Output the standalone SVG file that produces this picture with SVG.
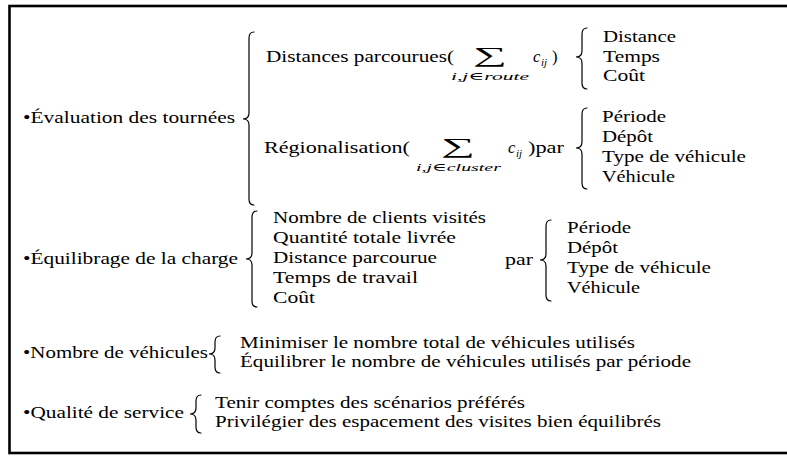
<svg xmlns="http://www.w3.org/2000/svg" width="787" height="460" viewBox="0 0 787 460">
<style>
.t{font-family:"Liberation Serif","DejaVu Serif",serif;font-size:16.5px;fill:#000}
.i{font-style:italic}
.s{font-size:11px}
.sum{font-family:"Liberation Serif","DejaVu Serif",serif;font-size:21px;fill:#000}
.br{fill:none;stroke:#000;stroke-width:1.2;stroke-linecap:round}
.frame{fill:none;stroke:#000;stroke-width:2.6}
</style>
<rect class="frame" x="9.5" y="6" width="800" height="447"/>

<g id="connectors">
<path class="br" d="M254,32 C250,32 249,34 249,38 L249,113 C249,117 247,119 243,119 C247,119 249,121 249,125 L249,199 C249,203 250,205 254,205"/>
<path class="br" d="M587,28 C583,28 582,30 582,34 L582,51 C582,55 580,57 576,57 C580,57 582,59 582,63 L582,83 C582,87 583,89 587,89"/>
<path class="br" d="M587,108 C583,108 582,110 582,114 L582,142 C582,146 580,148 576,148 C580,148 582,150 582,154 L582,183 C582,187 583,189 587,189"/>
<path class="br" d="M257,211 C253,211 252,213 252,217 L252,253 C252,257 250,259 246,259 C250,259 252,261 252,265 L252,301 C252,305 253,307 257,307"/>
<path class="br" d="M551,220 C547,220 546,222 546,226 L546,254 C546,258 544,260 540,260 C544,260 546,262 546,266 L546,295 C546,299 547,301 551,301"/>
<path class="br" d="M220,336 C216,336 215,338 215,342 L215,348 C215,352 213,354 209,354 C213,354 215,356 215,360 L215,367 C215,371 216,373 220,373"/>
<path class="br" d="M201,395 C197,395 196,397 196,401 L196,408 C196,412 194,414 190,414 C194,414 196,416 196,420 L196,427 C196,431 197,433 201,433"/>
</g>

<g id="n-evaluation">
<text class="t" x="23" y="123" textLength="212" lengthAdjust="spacingAndGlyphs">•Évaluation des tournées</text>
</g>

<g id="n-distances">
<text class="t" x="266" y="62" textLength="188" lengthAdjust="spacingAndGlyphs">Distances parcourues(</text>
<text class="sum" x="473" y="62" textLength="34" lengthAdjust="spacingAndGlyphs">∑</text>
<text class="t s" x="451" y="80" textLength="78" lengthAdjust="spacingAndGlyphs"><tspan class="i">i</tspan>,<tspan class="i">j</tspan>∈<tspan class="i">route</tspan></text>
<text class="t i" x="533" y="62">c</text>
<text class="t i s" x="541" y="65.5">ij</text>
<text class="t" x="552" y="62">)</text>
</g>

<g id="n-dist-items">
<text class="t" x="603" y="42" textLength="73" lengthAdjust="spacingAndGlyphs">Distance</text>
<text class="t" x="603" y="61.5" textLength="57" lengthAdjust="spacingAndGlyphs">Temps</text>
<text class="t" x="603" y="81" textLength="42" lengthAdjust="spacingAndGlyphs">Coût</text>
</g>

<g id="n-regional">
<text class="t" x="264" y="153" textLength="146" lengthAdjust="spacingAndGlyphs">Régionalisation(</text>
<text class="sum" x="441" y="153" textLength="34" lengthAdjust="spacingAndGlyphs">∑</text>
<text class="t s" x="416" y="171" textLength="85" lengthAdjust="spacingAndGlyphs"><tspan class="i">i</tspan>,<tspan class="i">j</tspan>∈<tspan class="i">cluster</tspan></text>
<text class="t i" x="508" y="153">c</text>
<text class="t i s" x="516" y="156.5">ij</text>
<text class="t" x="528" y="153" textLength="36" lengthAdjust="spacingAndGlyphs">)par</text>
</g>

<g id="n-reg-items">
<text class="t" x="602" y="122" textLength="64" lengthAdjust="spacingAndGlyphs">Période</text>
<text class="t" x="602" y="142" textLength="51" lengthAdjust="spacingAndGlyphs">Dépôt</text>
<text class="t" x="602" y="162" textLength="144" lengthAdjust="spacingAndGlyphs">Type de véhicule</text>
<text class="t" x="602" y="182" textLength="73" lengthAdjust="spacingAndGlyphs">Véhicule</text>
</g>

<g id="n-equilibrage">
<text class="t" x="23" y="264" textLength="215" lengthAdjust="spacingAndGlyphs">•Équilibrage de la charge</text>
</g>

<g id="n-eq-items">
<text class="t" x="273" y="223" textLength="213" lengthAdjust="spacingAndGlyphs">Nombre de clients visités</text>
<text class="t" x="273" y="243" textLength="183" lengthAdjust="spacingAndGlyphs">Quantité totale livrée</text>
<text class="t" x="273" y="263" textLength="164" lengthAdjust="spacingAndGlyphs">Distance parcourue</text>
<text class="t" x="273" y="283" textLength="145" lengthAdjust="spacingAndGlyphs">Temps de travail</text>
<text class="t" x="273" y="302.5" textLength="42" lengthAdjust="spacingAndGlyphs">Coût</text>
</g>

<g id="n-par">
<text class="t" x="505" y="265" textLength="28" lengthAdjust="spacingAndGlyphs">par</text>
</g>

<g id="n-par-items">
<text class="t" x="567" y="233" textLength="64" lengthAdjust="spacingAndGlyphs">Période</text>
<text class="t" x="567" y="253" textLength="51" lengthAdjust="spacingAndGlyphs">Dépôt</text>
<text class="t" x="567" y="273" textLength="144" lengthAdjust="spacingAndGlyphs">Type de véhicule</text>
<text class="t" x="567" y="293" textLength="73" lengthAdjust="spacingAndGlyphs">Véhicule</text>
</g>

<g id="n-vehicules">
<text class="t" x="23" y="358" textLength="185" lengthAdjust="spacingAndGlyphs">•Nombre de véhicules</text>
</g>

<g id="n-veh-items">
<text class="t" x="240" y="348" textLength="395" lengthAdjust="spacingAndGlyphs">Minimiser le nombre total de véhicules utilisés</text>
<text class="t" x="240" y="367" textLength="451" lengthAdjust="spacingAndGlyphs">Équilibrer le nombre de véhicules utilisés par période</text>
</g>

<g id="n-qualite">
<text class="t" x="23" y="418" textLength="161" lengthAdjust="spacingAndGlyphs">•Qualité de service</text>
</g>

<g id="n-qual-items">
<text class="t" x="215" y="408" textLength="310" lengthAdjust="spacingAndGlyphs">Tenir comptes des scénarios préférés</text>
<text class="t" x="215" y="427" textLength="446" lengthAdjust="spacingAndGlyphs">Privilégier des espacement des visites bien équilibrés</text>
</g>
</svg>
